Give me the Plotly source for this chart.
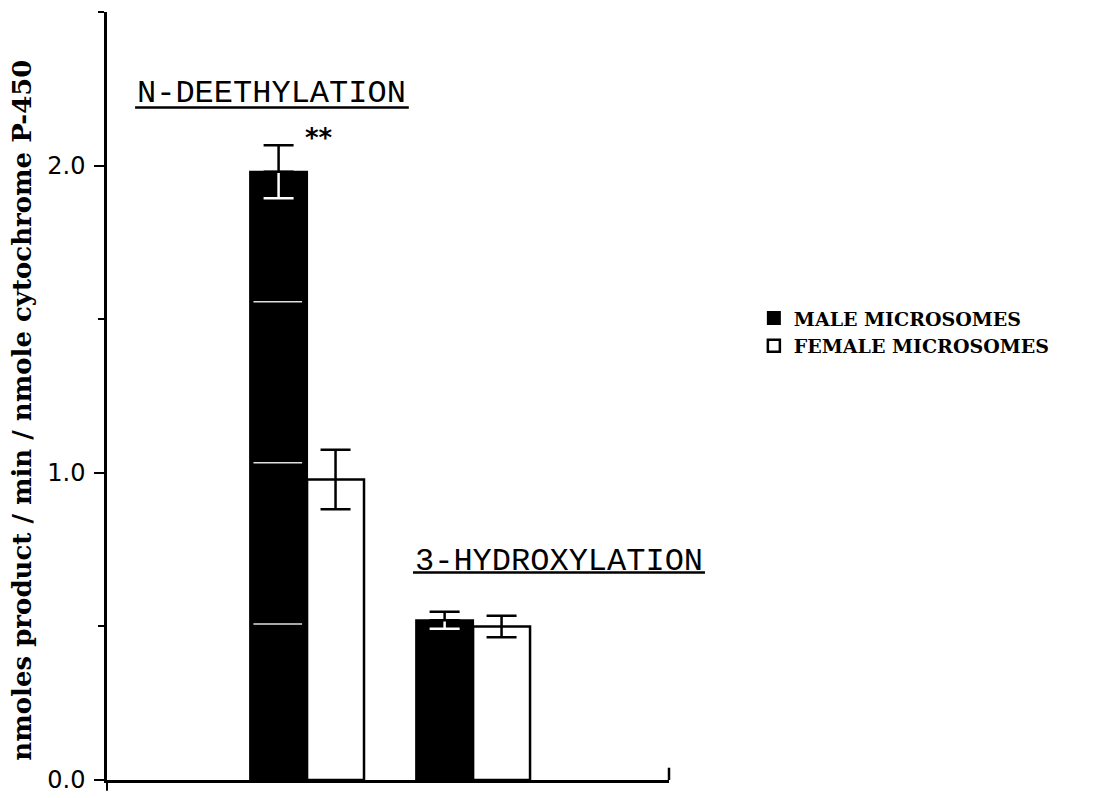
import plotly.graph_objects as go

# ---- data ----
categories = ["N-DEETHYLATION", "3-HYDROXYLATION"]
male_values = [1.98, 0.52]
male_err = [0.086, 0.028]
female_values = [0.978, 0.50]
female_err = [0.097, 0.035]
series_names = ["MALE MICROSOMES", "FEMALE MICROSOMES"]
y_tickvals = [0.0, 1.0, 2.0]
y_ticktext = ["0.0", "1.0", "2.0"]
y_title = "nmoles product / min / nmole cytochrome P-450"
significance = "**"
scan_streaks = [0.508, 1.033, 1.557]  # white scan streaks on male bar

# ---- layout helpers ----
idx = list(range(len(categories)))
bar_w = 0.343
off = bar_w / 2
male_x = [i - off for i in idx]
female_x = [i + off for i in idx]

SERIF = "DejaVu Serif"
fig = go.Figure()

fig.add_trace(go.Bar(
    x=male_x, y=male_values, width=bar_w, name=series_names[0],
    marker=dict(color="black", line=dict(color="black", width=2)),
    error_y=dict(type="data", array=male_err, color="white", thickness=2.5, width=15),
))
fig.add_trace(go.Bar(
    x=female_x, y=female_values, width=bar_w, name=series_names[1],
    marker=dict(color="white", line=dict(color="black", width=2.5)),
    error_y=dict(type="data", array=female_err, color="black", thickness=2.5, width=15),
))
# black upper half of the male error bars (above the black bar)
fig.add_trace(go.Scatter(
    x=male_x, y=male_values, mode="markers", showlegend=False, hoverinfo="skip",
    marker=dict(size=1, opacity=0),
    error_y=dict(type="data", array=male_err, arrayminus=[0] * len(male_err),
                 color="black", thickness=2.5, width=15),
))

# scan streaks on the first male bar
for s in scan_streaks:
    fig.add_shape(type="line", xref="x", yref="y",
                  x0=male_x[0] - bar_w / 2 + 0.02, x1=male_x[0] + bar_w / 2 - 0.03,
                  y0=s, y1=s, line=dict(color="#e0e0e0", width=1.5), layer="above")

# group labels (underlined)
label_pos = [(0.0498, 0.8945, 0.050, 0.537, 0.8755), (0.5445, 0.2839, 0.5445, 1.064, 0.2703)]
for cat, (lx, ly, ux0, ux1, uy) in zip(categories, label_pos):
    fig.add_annotation(text=cat, xref="paper", yref="paper", x=lx, y=ly,
                       xanchor="left", yanchor="middle", showarrow=False,
                       font=dict(family="Liberation Mono", size=32, color="black"))
    fig.add_shape(type="line", xref="paper", yref="paper", x0=ux0, x1=ux1, y0=uy, y1=uy,
                  line=dict(color="black", width=2.5))

fig.add_annotation(text="<b>" + significance + "</b>", xref="paper", yref="paper",
                   x=0.377, y=0.836, showarrow=False, xanchor="center", yanchor="middle",
                   font=dict(family="DejaVu Sans", size=26, color="black"))

fig.add_annotation(text="<b>" + y_title + "</b>", xref="paper", yref="paper",
                   x=-0.1515, y=0.482, textangle=-90, showarrow=False,
                   xanchor="center", yanchor="middle",
                   font=dict(family=SERIF, size=26, color="black"))

# x-axis end ticks
fig.add_shape(type="line", xref="paper", yref="paper", x0=0, x1=0, y0=0, y1=-0.014,
              line=dict(color="black", width=2))
fig.add_shape(type="line", xref="paper", yref="paper", x0=1, x1=1, y0=0, y1=0.016,
              line=dict(color="black", width=2.5))

fig.update_layout(
    width=1102, height=798,
    margin=dict(l=99, r=441, t=4, b=26),
    paper_bgcolor="white", plot_bgcolor="white",
    barmode="overlay",
    showlegend=True,
    legend=dict(x=1.151, y=0.626, xanchor="left", yanchor="top",
                font=dict(family=SERIF, size=19, color="black", weight="bold"),
                bgcolor="rgba(0,0,0,0)", tracegroupgap=0),
    xaxis=dict(range=[-1.205, 2.18], showline=True, linecolor="black", linewidth=2.5,
               showgrid=False, zeroline=False, showticklabels=False, ticks=""),
    yaxis=dict(range=[0, 2.5], showline=True, linecolor="black", linewidth=2.5,
               showgrid=False, zeroline=False,
               tickvals=y_tickvals, ticktext=y_ticktext,
               ticks="outside", ticklen=10, tickwidth=2, tickcolor="black",
               ticklabelstandoff=4,
               tickfont=dict(family="DejaVu Sans", size=24, color="black"),
               minor=dict(dtick=0.5, ticks="outside", ticklen=6, tickwidth=2, tickcolor="black")),
)

fig.write_html("out.html")
